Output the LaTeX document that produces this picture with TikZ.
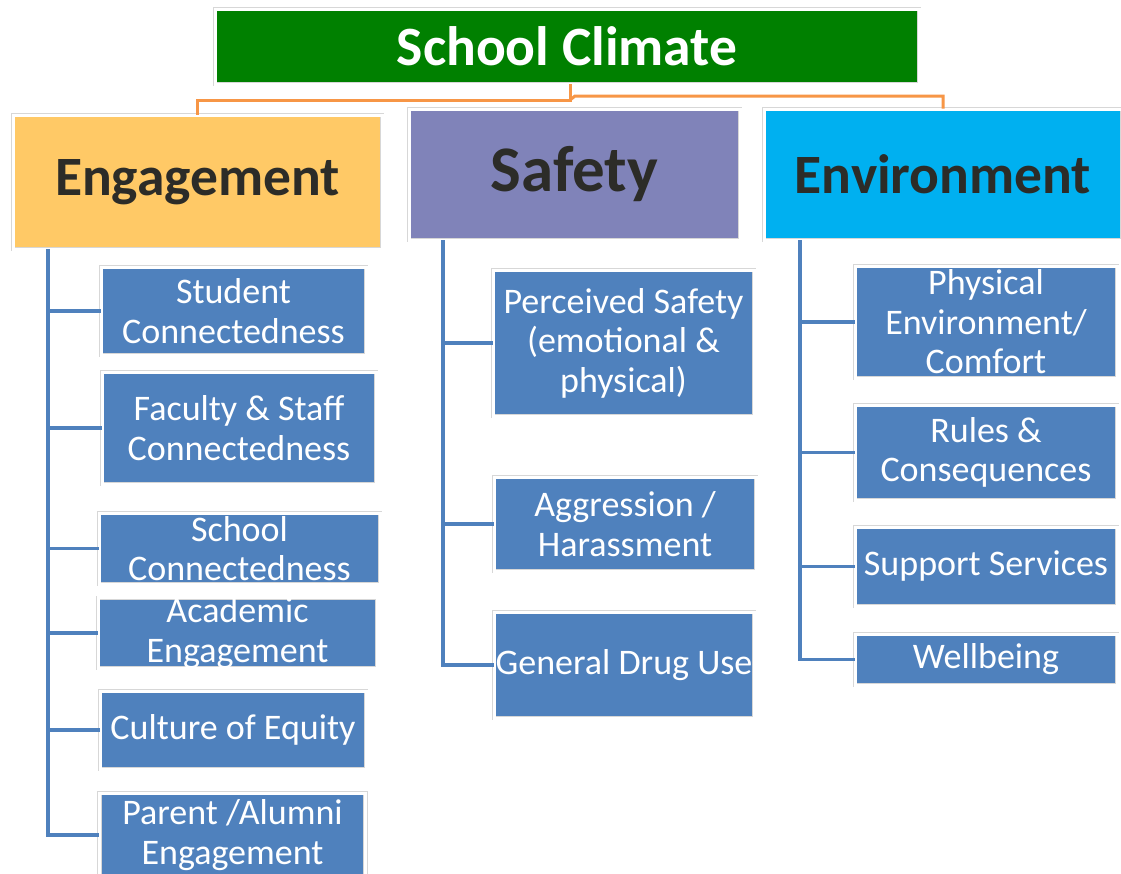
\documentclass[tikz,border=0pt]{standalone}
\usepackage{fontspec}
\setmainfont{Carlito}
\definecolor{titlegreen}{RGB}{0,128,0}
\definecolor{engfill}{RGB}{255,201,102}
\definecolor{saffill}{RGB}{128,131,185}
\definecolor{envfill}{RGB}{0,176,240}
\definecolor{subfill}{RGB}{79,129,189}
\definecolor{trunkc}{RGB}{79,129,189}
\definecolor{orangec}{RGB}{247,150,70}
\definecolor{headtext}{RGB}{44,44,40}
\definecolor{rimc}{RGB}{215,215,215}
\tikzset{
  framed/.style={rectangle, inner sep=0pt, fill=#1, draw=rimc, line width=0.6pt,
     double=white, double distance=3pt},
  titlebox/.style={framed=titlegreen, text=white, font=\fontsize{55.5}{60}\selectfont\bfseries},
  headbox/.style={framed=#1, text=headtext, font=\fontsize{55.5}{60}\selectfont\bfseries},
  subbox/.style={framed=subfill, text=white, align=center,
     font=\fontsize{36}{39.5}\selectfont},
  trunk/.style={draw=trunkc, line width=3.5pt},
  orangeline/.style={draw=orangec, line width=3pt}
}
\begin{document}
\begin{tikzpicture}[x=1pt,y=-1pt]
\useasboundingbox[fill=white] (0,0) rectangle (1121,873);
% title
\node[titlebox, minimum width=704pt, minimum height=75pt] (title) at (567,46.5) {School Climate};
% heads
\node[headbox=engfill, minimum width=369pt, minimum height=134pt] (eng) at (197.5,182) {Engagement};
\node[headbox=saffill, minimum width=331pt, minimum height=131pt, font=\fontsize{65}{70}\selectfont\bfseries] (saf) at (574.5,174.5) {Safety};
\node[headbox=envfill, minimum width=358pt, minimum height=131pt] (env) at (943,174.5) {Environment};
% orange connectors
\coordinate (jl) at (570,100);
\coordinate (jr) at (575,96);
\draw[orangeline] (title.south -| jl) -- (jl) -- (jl -| eng.north) -- (eng.north);
\draw[orangeline] (jl) -- (jr) -- (jr -| env.north) -- (env.north);
% engagement children
\node[subbox, minimum width=265pt, minimum height=88pt] (e1) at (233.5,311) {Student\\Connectedness};
\node[subbox, minimum width=274pt, minimum height=112pt] (e2) at (239,428) {Faculty \& Staff\\Connectedness};
\node[subbox, minimum width=281pt, minimum height=71pt] (e3) at (239.5,548.5) {School\\Connectedness};
\node[subbox, minimum width=279pt, minimum height=68pt] (e4) at (237.5,633) {Academic\\Engagement};
\node[subbox, minimum width=266pt, minimum height=78pt] (e5) at (233,730) {Culture of Equity};
\node[subbox, minimum width=266pt, minimum height=84pt] (e6) at (232.5,835) {Parent /Alumni\\Engagement};
% safety children
\node[subbox, minimum width=261pt, minimum height=146pt] (s1) at (623.5,343) {Perceived Safety\\(emotional \&\\physical)};
\node[subbox, minimum width=262pt, minimum height=94pt] (s2) at (625,524) {Aggression /\\Harassment};
\node[subbox, minimum width=260pt, minimum height=106pt] (s3) at (624,665) {General Drug Use};
% environment children
\node[subbox, minimum width=262pt, minimum height=112pt] (v1) at (986,322) {Physical\\Environment/\\Comfort};
\node[subbox, minimum width=262pt, minimum height=95pt] (v2) at (986,452.5) {Rules \&\\Consequences};
\node[subbox, minimum width=262pt, minimum height=79pt] (v3) at (986,566.5) {Support Services};
\node[subbox, minimum width=262pt, minimum height=51pt] (v4) at (986,659.5) {Wellbeing};
% trunks
\coordinate (et) at (48,0);
\coordinate (st) at (443,0);
\coordinate (vt) at (800,0);
\draw[trunk] (eng.south -| et) -- (e6.west -| et) -- (e6.west);
\foreach \n in {e1,e2,e3,e4,e5} \draw[trunk] (\n.west -| et) -- (\n.west);
\draw[trunk] (saf.south -| st) -- (s3.west -| st) -- (s3.west);
\foreach \n in {s1,s2} \draw[trunk] (\n.west -| st) -- (\n.west);
\draw[trunk] (env.south -| vt) -- (v4.west -| vt) -- (v4.west);
\foreach \n in {v1,v2,v3} \draw[trunk] (\n.west -| vt) -- (\n.west);
\end{tikzpicture}
\end{document}
